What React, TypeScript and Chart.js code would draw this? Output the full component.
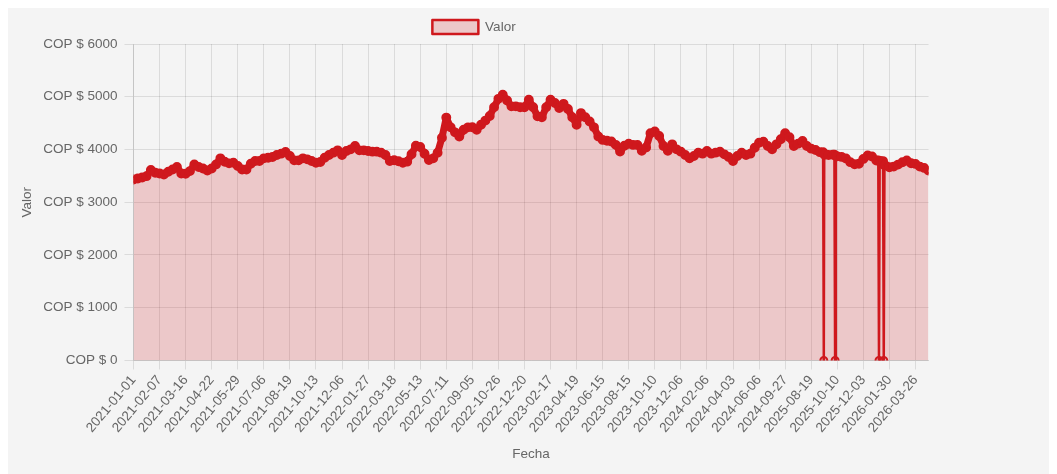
import React, { useEffect, useRef } from 'react';
import { Chart, registerables } from 'chart.js';

Chart.register(...registerables);

// Tick labels shown on the x axis (one every POINTS_PER_TICK samples)
const tickLabels: string[] = [
  '2021-01-01', '2021-02-07', '2021-03-16', '2021-04-22', '2021-05-29', '2021-07-06',
  '2021-08-19', '2021-10-13', '2021-12-06', '2022-01-27', '2022-03-18', '2022-05-13',
  '2022-07-11', '2022-09-05', '2022-10-26', '2022-12-20', '2023-02-17', '2023-04-19',
  '2023-06-15', '2023-08-15', '2023-10-10', '2023-12-06', '2024-02-06', '2024-04-03',
  '2024-06-06', '2024-09-27', '2025-08-19', '2025-10-10', '2025-12-03', '2026-01-30',
  '2026-03-26',
];

const POINTS_PER_TICK = 6;
// fraction of a sample that one original daily record occupies
const RECORD_WIDTH = 6 / 37;

// Sampled exchange-rate values (COP), one per sample index
const values: number[] = [
  3432, 3451, 3470, 3495, 3610, 3559,
  3546, 3527, 3578, 3622, 3667, 3545,
  3540, 3590, 3717, 3667, 3641, 3603,
  3641, 3717, 3832, 3768, 3737, 3749,
  3686, 3622, 3622, 3730, 3781, 3781,
  3832, 3844, 3857, 3895, 3921, 3952,
  3876, 3794, 3794, 3832, 3813, 3781,
  3749, 3762, 3844, 3895, 3940, 3984,
  3895, 3971, 4003, 4067, 3984, 3984,
  3971, 3959, 3959, 3940, 3895, 3781,
  3795, 3776, 3748, 3770, 3912, 4070,
  4048, 3921, 3800, 3832, 3940, 4225,
  4605, 4420, 4325, 4246, 4373, 4420,
  4421, 4373, 4468, 4548, 4634, 4802,
  4960, 5040, 4929, 4818, 4818, 4802,
  4802, 4945, 4801, 4628, 4611, 4801,
  4945, 4881, 4786, 4865, 4770, 4611,
  4468, 4690, 4611, 4531, 4420, 4246,
  4182, 4166, 4151, 4088, 3960, 4071,
  4110, 4087, 4087, 3976, 4040, 4310,
  4340, 4257, 4067, 3975, 4098, 4003,
  3959, 3895, 3832, 3876, 3940, 3921,
  3971, 3921, 3940, 3959, 3908, 3857,
  3781, 3876, 3940, 3895, 3921, 4035,
  4130, 4149, 4067, 4003, 4098, 4194,
  4308, 4232, 4067, 4111, 4162, 4067,
  4016, 3990, 3950, 3920, 3895, 3900,
  3870, 3860, 3830, 3760, 3720, 3730,
  3822, 3886, 3867, 3790, 3780, 3700,
  3663, 3676, 3714, 3759, 3790, 3740,
  3727, 3676, 3651, 3600,
];

// Single records with value 0 (position in sample units) and the records around them
const dropPositions: number[] = [158.9, 161.5, 171.6, 172.7];
const dropValues: number[] = [0, 0, 0, 0];
const dropBefore: number[] = [3950, 3900, 3790, 3780];
const dropAfter: number[] = [3900, 3880, 3780, 3700];

const seriesName = 'Valor';
const xTitle = 'Fecha';
const yTitle = 'Valor';
const yMin = 0;
const yMax = 6000;
const yStep = 1000;
const currencyPrefix = 'COP $ ';

export default function App() {
  const canvasRef = useRef<HTMLCanvasElement | null>(null);

  useEffect(() => {
    if (!canvasRef.current) return;

    const points: { x: number; y: number }[] = values.map((v, i) => ({ x: i, y: v }));
    dropPositions.forEach((p, k) => {
      points.push({ x: p - RECORD_WIDTH, y: dropBefore[k] });
      points.push({ x: p, y: dropValues[k] });
      points.push({ x: p + RECORD_WIDTH, y: dropAfter[k] });
    });
    points.sort((a, b) => a.x - b.x);

    const red = 'rgb(207, 24, 29)';
    const pink = 'rgba(207, 24, 29, 0.2)';
    const textColor = '#666';
    const gridColor = 'rgba(0, 0, 0, 0.1)';
    const font = { family: "'Liberation Sans', Arial, Helvetica, sans-serif", size: 13.5 };
    const isZero = (ctx: any) => ctx.raw && ctx.raw.y === 0;

    const chart = new Chart(canvasRef.current, {
      type: 'line',
      data: {
        datasets: [
          {
            label: seriesName,
            data: points,
            borderColor: red,
            backgroundColor: pink,
            fill: true,
            borderWidth: 2.5,
            borderJoinStyle: 'round',
            borderCapStyle: 'round',
            segment: {
              borderWidth: (ctx: any) =>
                ctx.p0.parsed.y === 0 || ctx.p1.parsed.y === 0 ? 2.5 : 7,
            },
            pointRadius: (ctx: any) => (isZero(ctx) ? 3.5 : 3.2),
            pointBorderWidth: (ctx: any) => (isZero(ctx) ? 2 : 3.5),
            pointBackgroundColor: pink,
            pointBorderColor: red,
            tension: 0,
          },
        ],
      },
      options: {
        responsive: true,
        maintainAspectRatio: false,
        animation: false,
        layout: { padding: { left: 4, right: 0, top: 0 } },
        plugins: {
          legend: {
            labels: { font, color: textColor, boxWidth: 46, boxHeight: 14, padding: 12 },
          },
          tooltip: { enabled: false },
        },
        scales: {
          x: {
            type: 'linear',
            min: 0,
            max: values.length - 1,
            title: { display: true, text: xTitle, font, color: textColor, padding: { top: 7, bottom: 4 } },
            afterBuildTicks: (scale: any) => {
              scale.ticks = tickLabels.map((_, j) => ({ value: j * POINTS_PER_TICK }));
            },
            ticks: {
              autoSkip: false,
              minRotation: 50,
              maxRotation: 50,
              font,
              color: textColor,
              callback: (v: any) => tickLabels[Math.round(v / POINTS_PER_TICK)] ?? '',
            },
            grid: { tickLength: 9, color: gridColor },
          },
          y: {
            min: yMin,
            max: yMax,
            title: { display: true, text: yTitle, font, color: textColor, padding: { top: 7, bottom: 1 } },
            ticks: {
              stepSize: yStep,
              font,
              color: textColor,
              padding: 7,
              callback: (v: any) => currencyPrefix + v,
            },
            grid: { tickLength: 9, color: gridColor },
          },
        },
      },
    });
    return () => chart.destroy();
  }, []);

  return (
    <div style={{ background: '#f4f4f4', width: 1041, height: 466 }}>
      <div style={{ position: 'relative', width: 928, height: 458 }}>
        <canvas ref={canvasRef} />
      </div>
    </div>
  );
}
